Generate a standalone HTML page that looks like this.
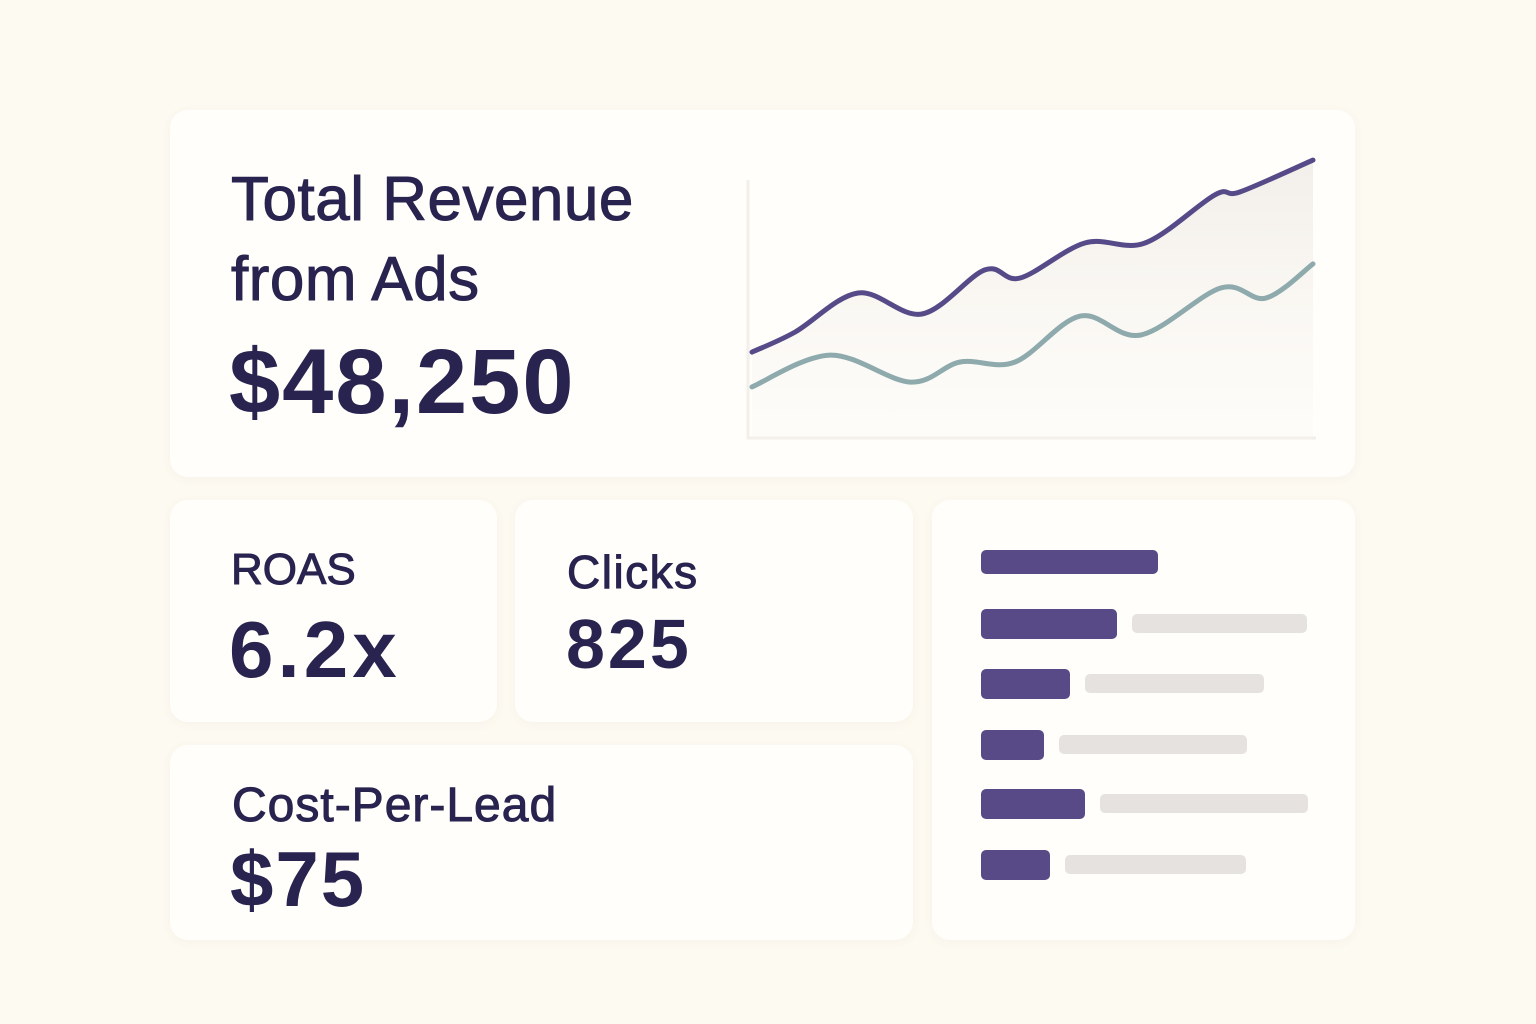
<!DOCTYPE html>
<html><head><meta charset="utf-8"><style>
body{margin:0;width:1536px;height:1024px;background:#fdfaf2;font-family:"Liberation Sans",sans-serif;color:#28234f;position:relative;overflow:hidden}
.card{position:absolute;background:#fffefa;border-radius:18px;box-shadow:0 2px 10px rgba(120,100,80,0.05)}
.t{position:absolute;white-space:nowrap;margin:0}
.m{-webkit-text-stroke:1px #28234f}
</style></head><body>
<div class="card" style="left:170px;top:110px;width:1185px;height:367px"></div>
<div class="t m" style="left:231px;top:160px;font-size:62px;line-height:80px;letter-spacing:0.5px">Total Revenue<br>from Ads</div>
<div class="t" style="left:229px;top:330px;font-size:92px;font-weight:bold;letter-spacing:2px">$48,250</div>
<svg id="chart" style="position:absolute;left:0;top:0" width="1536" height="1024"></svg>

<div class="card" style="left:170px;top:500px;width:327px;height:222px"></div>
<div class="t m" style="left:231px;top:545px;font-size:44px">ROAS</div>
<div class="t" style="left:229px;top:604px;font-size:80px;font-weight:bold;letter-spacing:4px">6.2x</div>
<div class="card" style="left:515px;top:500px;width:398px;height:222px"></div>
<div class="t m" style="left:567px;top:545px;font-size:46px;letter-spacing:1.5px">Clicks</div>
<div class="t" style="left:566px;top:604px;font-size:70px;font-weight:bold;letter-spacing:3px">825</div>
<div class="card" style="left:170px;top:745px;width:743px;height:195px"></div>
<div class="t m" style="left:232px;top:778px;font-size:48px;letter-spacing:1px">Cost-Per-Lead</div>
<div class="t" style="left:230px;top:834px;font-size:78px;font-weight:bold;letter-spacing:2px">$75</div>
<div class="card" style="left:932px;top:500px;width:423px;height:440px"></div>
<svg id="bars" style="position:absolute;left:0;top:0" width="1536" height="1024"></svg>
<script>
const purpleT=[0,7.7,18.9,30.3,41.5,47.8,59.4,70.1,82.5,87,100];
const purpleV=[29.3,36,49,42,56.7,54,65.7,65.7,81.7,82.7,93.3];
const tealT=[0,13.9,28.2,37.1,46.9,58.5,69.3,83.6,91.6,100];
const tealV=[17.7,28.3,19.3,26,26,41.3,35,50.7,47.3,58.7];
const barPrimary=[177,136,89,63,104,69];
const barSecondary=[0,175,179,188,208,181];
const NS="http://www.w3.org/2000/svg";
const xs=t=>752+t*5.61, ys=v=>440-v*3;
function pathD(T,V){const p=T.map((t,i)=>[xs(t),ys(V[i])]);let d=`M${p[0][0]},${p[0][1]}`;
for(let i=0;i<p.length-1;i++){const p0=p[i-1]||p[i],p1=p[i],p2=p[i+1],p3=p[i+2]||p2;
d+=` C${p1[0]+(p2[0]-p0[0])/6},${p1[1]+(p2[1]-p0[1])/6} ${p2[0]-(p3[0]-p1[0])/6},${p2[1]-(p3[1]-p1[1])/6} ${p2[0]},${p2[1]}`;}return d;}
const svg=document.getElementById('chart');
svg.innerHTML='<defs><linearGradient id="g" x1="0" y1="0" x2="0" y2="1"><stop offset="0" stop-color="#f1ede8" stop-opacity="0.9"/><stop offset="1" stop-color="#fbf8f4" stop-opacity="0.3"/></linearGradient></defs>';
const area=document.createElementNS(NS,'path');
area.setAttribute('d',pathD(purpleT,purpleV)+` L${xs(100)},${ys(0)} L${xs(0)},${ys(0)} Z`);
area.setAttribute('fill','url(#g)');


svg.appendChild(area);
const axis=document.createElementNS(NS,'path');
axis.setAttribute('d',`M748,180 L748,438 L1316,438`);axis.setAttribute('stroke','#f3efea');axis.setAttribute('stroke-width','3');axis.setAttribute('fill','none');


svg.appendChild(axis);
[[tealT,tealV,'#8eaaac','teal-line'],[purpleT,purpleV,'#564a88','purple-line']].forEach(([T,V,c,n])=>{
const l=document.createElementNS(NS,'path');l.setAttribute('d',pathD(T,V));l.setAttribute('stroke',c);l.setAttribute('stroke-width','5');l.setAttribute('fill','none');l.setAttribute('stroke-linecap','round');


svg.appendChild(l);});
const bs=document.getElementById('bars');
const rowY=[562,623,683,744,803,864];
barPrimary.forEach((w,i)=>{
const r=document.createElementNS(NS,'rect');r.setAttribute('x',981);r.setAttribute('y',rowY[i]-14);r.setAttribute('width',w);r.setAttribute('height',i==0?24:30);r.setAttribute('rx',5);r.setAttribute('fill','#574a86');
if(i==0)r.setAttribute('y',rowY[i]-12);


bs.appendChild(r);
if(barSecondary[i]>0){const g=document.createElementNS(NS,'rect');g.setAttribute('x',981+w+15);g.setAttribute('y',rowY[i]-9);g.setAttribute('width',barSecondary[i]);g.setAttribute('height',19);g.setAttribute('rx',5);g.setAttribute('fill','#e6e2df');


bs.appendChild(g);}
});
</script>
</body></html>
